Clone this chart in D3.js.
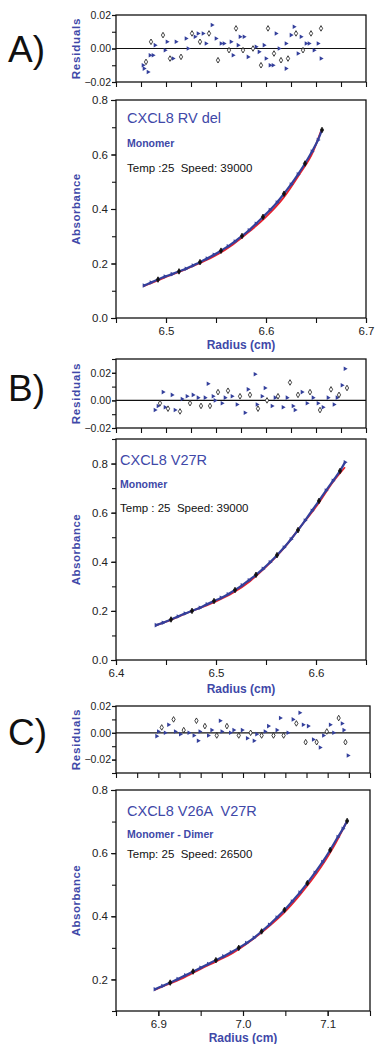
<!DOCTYPE html>
<html>
<head>
<meta charset="utf-8">
<script src="https://cdn.jsdelivr.net/npm/d3@7"></script>
<style>
  body { margin: 0; background: #fff; }
  svg { display: block; font-family: "Liberation Sans", Arial, sans-serif; }
  text { white-space: pre; }
</style>
</head>
<body>
<svg id="chart" width="375" height="1044"></svg>
<script>
// ---- panel A : CXCL8 RV del ----
const fitA_r = [6.477, 6.490, 6.500, 6.517, 6.533, 6.550, 6.567, 6.583, 6.600, 6.617, 6.633, 6.647, 6.655];
const fitA_v = [0.116, 0.135, 0.151, 0.175, 0.200, 0.230, 0.270, 0.316, 0.371, 0.439, 0.525, 0.610, 0.686];
const obsA_r = [6.478, 6.485, 6.492, 6.499, 6.506, 6.513, 6.520, 6.527, 6.534, 6.541, 6.548, 6.555, 6.562, 6.569,
  6.576, 6.583, 6.590, 6.597, 6.604, 6.611, 6.618, 6.625, 6.632, 6.639, 6.646, 6.652, 6.656];
const obsA_v = [0.119, 0.130, 0.141, 0.152, 0.161, 0.171, 0.181, 0.193, 0.205, 0.218, 0.232, 0.247, 0.263, 0.281,
  0.301, 0.322, 0.346, 0.371, 0.396, 0.424, 0.456, 0.490, 0.527, 0.567, 0.611, 0.653, 0.690];
const resA_r = [6.477, 6.478, 6.480, 6.482, 6.484, 6.485, 6.487, 6.489, 6.497, 6.499, 6.501, 6.504, 6.507, 6.510,
  6.515, 6.520, 6.522, 6.526, 6.529, 6.532, 6.534, 6.537, 6.540, 6.543, 6.546, 6.550, 6.552, 6.555, 6.558,
  6.563, 6.565, 6.567, 6.570, 6.572, 6.574, 6.577, 6.578, 6.582, 6.587, 6.590, 6.593, 6.595, 6.598, 6.600,
  6.602, 6.604, 6.607, 6.608, 6.610, 6.613, 6.615, 6.620, 6.620, 6.622, 6.625, 6.628, 6.630, 6.632, 6.635,
  6.637, 6.640, 6.643, 6.645, 6.648, 6.652, 6.655, 6.655];
const resA_v = [-0.010, -0.012, -0.008, -0.014, -0.004, 0.004, -0.004, 0.002, 0.008, -0.001, 0.004, -0.006,
  -0.006, 0.004, -0.005, 0.006, 0.000, 0.009, 0.007, 0.009, 0.004, 0.009, 0.003, 0.009, 0.014, 0.006, -0.007,
  0.003, 0.003, -0.001, 0.004, -0.004, 0.012, 0.002, 0.007, -0.001, 0.007, -0.005, 0.000, 0.001, -0.002, -0.010,
  0.002, -0.006, 0.012, -0.010, -0.010, -0.003, 0.009, 0.000, -0.007, -0.012, 0.003, -0.006, 0.008, 0.013,
  0.009, -0.003, 0.007, -0.001, 0.003, 0.003, 0.009, -0.001, 0.003, 0.012, -0.006];

// ---- panel B : CXCL8 V27R ----
const fitB_r = [6.439, 6.451, 6.467, 6.484, 6.500, 6.517, 6.534, 6.551, 6.567, 6.584, 6.601, 6.617, 6.629];
const fitB_v = [0.140, 0.157, 0.185, 0.212, 0.239, 0.274, 0.321, 0.383, 0.451, 0.540, 0.629, 0.725, 0.785];
const obsB_r = [6.440, 6.447, 6.455, 6.462, 6.469, 6.476, 6.484, 6.491, 6.498, 6.505, 6.512, 6.519, 6.526, 6.533,
  6.540, 6.547, 6.554, 6.561, 6.568, 6.575, 6.582, 6.589, 6.596, 6.603, 6.610, 6.617, 6.624, 6.629];
const obsB_v = [0.142, 0.152, 0.165, 0.177, 0.189, 0.200, 0.213, 0.227, 0.240, 0.253, 0.268, 0.285, 0.304, 0.325,
  0.347, 0.371, 0.398, 0.427, 0.458, 0.492, 0.529, 0.568, 0.608, 0.648, 0.690, 0.730, 0.770, 0.805];
const resB_r = [6.439, 6.442, 6.444, 6.447, 6.449, 6.452, 6.456, 6.459, 6.464, 6.466, 6.471, 6.474, 6.477, 6.482,
  6.485, 6.489, 6.492, 6.494, 6.497, 6.499, 6.502, 6.506, 6.509, 6.512, 6.516, 6.521, 6.524, 6.529, 6.532,
  6.534, 6.539, 6.541, 6.542, 6.546, 6.549, 6.551, 6.556, 6.559, 6.562, 6.567, 6.571, 6.574, 6.577, 6.579,
  6.582, 6.586, 6.591, 6.594, 6.597, 6.602, 6.604, 6.607, 6.612, 6.615, 6.618, 6.621, 6.623, 6.626, 6.629, 6.631];
const resB_v = [-0.007, -0.004, -0.002, 0.006, -0.005, -0.006, 0.004, -0.007, -0.008, 0.001, 0.003, -0.002,
  0.004, 0.002, -0.004, 0.002, 0.012, -0.004, 0.003, 0.000, 0.006, -0.002, 0.002, 0.007, 0.003, -0.003, 0.003,
  -0.009, 0.008, 0.004, 0.019, -0.003, -0.006, 0.003, 0.009, 0.000, -0.004, 0.002, 0.003, -0.005, 0.002, 0.013,
  -0.004, -0.007, 0.004, 0.006, -0.002, 0.006, 0.002, -0.002, -0.007, -0.005, 0.002, 0.008, -0.003, 0.002,
  0.004, 0.011, 0.023, 0.009];

// ---- panel C : CXCL8 V26A V27R ----
const fitC_r = [6.896, 6.910, 6.929, 6.949, 6.969, 6.988, 7.008, 7.028, 7.048, 7.067, 7.087, 7.107, 7.122];
const fitC_v = [0.167, 0.183, 0.204, 0.232, 0.258, 0.284, 0.320, 0.362, 0.410, 0.467, 0.536, 0.620, 0.697];
const obsC_r = [6.896, 6.905, 6.914, 6.923, 6.932, 6.941, 6.950, 6.959, 6.968, 6.977, 6.986, 6.995, 7.004, 7.013,
  7.022, 7.031, 7.040, 7.049, 7.058, 7.067, 7.076, 7.085, 7.094, 7.103, 7.112, 7.118, 7.123];
const obsC_v = [0.169, 0.179, 0.190, 0.201, 0.213, 0.225, 0.237, 0.249, 0.261, 0.273, 0.286, 0.300, 0.315, 0.332,
  0.352, 0.373, 0.396, 0.420, 0.447, 0.475, 0.505, 0.538, 0.572, 0.610, 0.651, 0.677, 0.702];
const resC_r = [6.898, 6.900, 6.904, 6.908, 6.912, 6.918, 6.920, 6.926, 6.930, 6.936, 6.942, 6.945, 6.947, 6.949,
  6.955, 6.959, 6.963, 6.969, 6.973, 6.975, 6.981, 6.985, 6.989, 6.995, 6.999, 7.005, 7.009, 7.013, 7.016,
  7.022, 7.026, 7.030, 7.036, 7.040, 7.044, 7.048, 7.053, 7.059, 7.063, 7.067, 7.071, 7.074, 7.077, 7.083,
  7.087, 7.091, 7.095, 7.099, 7.103, 7.107, 7.113, 7.117, 7.119, 7.121, 7.124];
const resC_v = [-0.0025, 0.001, 0.004, 0.000, 0.006, 0.010, 0.001, -0.001, 0.002, 0.000, -0.002, 0.009, -0.006,
  0.001, 0.005, -0.002, 0.002, -0.002, 0.009, 0.001, 0.005, 0.000, 0.002, -0.002, 0.002, -0.004, 0.000, -0.006,
  -0.001, -0.002, 0.001, 0.005, -0.002, 0.002, 0.011, -0.002, 0.000, 0.010, 0.007, 0.015, 0.006, -0.007, 0.005,
  -0.005, -0.007, -0.011, -0.002, 0.001, 0.006, 0.000, 0.011, 0.007, 0.002, -0.007, -0.017];

// axis ticks and labels
const ticksMainA = [0, 0.2, 0.4, 0.6, 0.8], ticksMainB = [0, 0.2, 0.4, 0.6, 0.8], ticksMainC = [0.2, 0.4, 0.6, 0.8];
const ticksXA = [6.5, 6.6, 6.7], ticksXB = [6.4, 6.5, 6.6], ticksXC = [6.9, 7.0, 7.1];
const ticksRes = [-0.02, 0, 0.02];

const panels = [
  { letter: 'A)', letterY: 62, left: 116, right: 366, res: [15, 82], main: [100, 318], xLab: 349,
    xDom: [6.45, 6.7], yDom: [0, 0.8], rDom: [-0.02, 0.02], yTicks: ticksMainA, xTicks: ticksXA,
    fitR: fitA_r, fitV: fitA_v, obsR: obsA_r, obsV: obsA_v, resR: resA_r, resV: resA_v,
    tx: 127, t: ['CXCL8 RV del', 'Monomer', 'Temp :25  Speed: 39000'], ty: [123, 147, 172] },
  { letter: 'B)', letterY: 401, left: 116, right: 366, res: [359, 428], main: [439, 660], xLab: 693,
    xDom: [6.4, 6.65], yDom: [0, 0.9], rDom: [-0.02, 0.03], yTicks: ticksMainB, xTicks: ticksXB,
    fitR: fitB_r, fitV: fitB_v, obsR: obsB_r, obsV: obsB_v, resR: resB_r, resV: resB_v,
    tx: 120, t: ['CXCL8 V27R', 'Monomer', 'Temp : 25  Speed: 39000'], ty: [465, 488, 512] },
  { letter: 'C)', letterY: 745, left: 116, right: 370, res: [706, 773], main: [790, 1011], xLab: 1042,
    xDom: [6.85, 7.15], yDom: [0.1, 0.8], rDom: [-0.03, 0.02], yTicks: ticksMainC, xTicks: ticksXC,
    fitR: fitC_r, fitV: fitC_v, obsR: obsC_r, obsV: obsC_v, resR: resC_r, resV: resC_v,
    tx: 127, t: ['CXCL8 V26A  V27R', 'Monomer - Dimer', 'Temp: 25  Speed: 26500'], ty: [816, 838, 858] }
];

const blue = '#34409c', textBlue = '#4048a8', red = '#e8202c';
const svg = d3.select('#chart');

const tri = d3.symbol(d3.symbolTriangle, 9);
const dia = d3.symbol(d3.symbolDiamond, 9);

// open: black diamonds drawn hollow (residuals) or filled (main curve)
function drawMarkers(g, xs, ys, x, y, open) {
  g.selectAll('path.m')
    .data(xs.map((r, i) => [r, ys[i], i]))
    .join('path')
      .attr('class', 'm')
      .attr('d', d => (d[2] % 3 === 2 ? dia() : tri()))
      .attr('transform', d => `translate(${x(d[0])},${y(d[1])})` + (d[2] % 3 === 2 ? '' : ' rotate(90)'))
      .attr('fill', d => (d[2] % 3 === 2 ? (open ? '#fff' : '#111') : blue))
      .attr('stroke', d => (d[2] % 3 === 2 ? '#111' : 'none'))
      .attr('stroke-width', 0.8);
}

function styleAxis(g) {
  g.select('.domain').remove();
  g.selectAll('line').attr('stroke', '#111').attr('stroke-width', 1.1);
  g.selectAll('text').attr('fill', '#222').style('font-size', '11.5px');
}

for (const p of panels) {
  const x = d3.scaleLinear().domain(p.xDom).range([p.left, p.right]);
  const yM = d3.scaleLinear().domain(p.yDom).range([p.main[1], p.main[0]]);
  const yR = d3.scaleLinear().domain(p.rDom).range([p.res[1], p.res[0]]);
  const xMinor = d3.range(p.xDom[0], p.xDom[1] + 1e-9, 0.05);
  const xResTicks = d3.range(p.xDom[0], p.xDom[1] + 1e-9, 0.025);

  // panel letter
  svg.append('text').attr('x', 8).attr('y', p.letterY)
    .style('font-size', '37px').attr('fill', '#111').text(p.letter);

  // ---- residuals ----
  const gr = svg.append('g');
  gr.append('g').attr('transform', `translate(0,${p.res[1]})`)
    .call(d3.axisBottom(x).tickValues(xResTicks).tickSize(5).tickFormat(''))
    .call(styleAxis);
  gr.append('g').attr('transform', `translate(${p.left},0)`)
    .call(d3.axisLeft(yR).tickValues(d3.range(Math.round(p.rDom[0] * 100), Math.round(p.rDom[1] * 100) + 1).map(v => v / 100))
      .tickSize(4).tickFormat(''))
    .call(styleAxis);
  gr.append('g').attr('transform', `translate(${p.left},0)`)
    .call(d3.axisLeft(yR).tickValues(ticksRes).tickSize(4).tickPadding(1).tickFormat(d3.format('.2f')))
    .call(styleAxis)
    .call(g => g.selectAll('text').style('font-size', '10.5px'));
  gr.append('line')
    .attr('x1', p.left).attr('x2', p.right).attr('y1', yR(0)).attr('y2', yR(0))
    .attr('stroke', '#111').attr('stroke-width', 1.2);
  drawMarkers(gr.append('g'), p.resR, p.resV, x, yR, true);
  gr.append('rect').attr('x', p.left).attr('y', p.res[0])
    .attr('width', p.right - p.left).attr('height', p.res[1] - p.res[0])
    .attr('fill', 'none').attr('stroke', '#111').attr('stroke-width', 1.3);
  svg.append('text')
    .attr('transform', `translate(80,${(p.res[0] + p.res[1]) / 2}) rotate(-90)`)
    .attr('text-anchor', 'middle').attr('fill', textBlue)
    .style('font-size', '11.5px').style('font-weight', 'bold').style('letter-spacing', '0.8px')
    .text('Residuals');

  // ---- main plot ----
  const gm = svg.append('g');
  gm.append('g').attr('transform', `translate(0,${p.main[1]})`)
    .call(d3.axisBottom(x).tickValues(xMinor).tickSize(5).tickFormat(''))
    .call(styleAxis);
  gm.append('g').attr('transform', `translate(0,${p.main[1]})`)
    .call(d3.axisBottom(x).tickValues(p.xTicks).tickSize(5).tickPadding(4).tickFormat(d3.format('.1f')))
    .call(styleAxis);
  gm.append('g').attr('transform', `translate(${p.left},0)`)
    .call(d3.axisLeft(yM).tickValues(d3.range(Math.round(p.yDom[0] * 10), Math.round(p.yDom[1] * 10) + 1).map(v => v / 10))
      .tickSize(4).tickFormat(''))
    .call(styleAxis);
  gm.append('g').attr('transform', `translate(${p.left},0)`)
    .call(d3.axisLeft(yM).tickValues(p.yTicks).tickSize(5).tickPadding(3).tickFormat(d3.format('.1f')))
    .call(styleAxis);

  const line = d3.line().curve(d3.curveMonotoneX);
  gm.append('path')
    .attr('d', line(p.fitR.map((r, i) => [x(r), yM(p.fitV[i])])))
    .attr('fill', 'none').attr('stroke', red).attr('stroke-width', 1.8);
  gm.append('path')
    .attr('d', line(p.obsR.map((r, i) => [x(r), yM(p.obsV[i])])))
    .attr('fill', 'none').attr('stroke', blue).attr('stroke-width', 2.2);
  drawMarkers(gm.append('g'), p.obsR, p.obsV, x, yM, false);

  gm.append('rect').attr('x', p.left).attr('y', p.main[0])
    .attr('width', p.right - p.left).attr('height', p.main[1] - p.main[0])
    .attr('fill', 'none').attr('stroke', '#111').attr('stroke-width', 1.3);

  svg.append('text')
    .attr('transform', `translate(80,${(p.main[0] + p.main[1]) / 2}) rotate(-90)`)
    .attr('text-anchor', 'middle').attr('fill', textBlue)
    .style('font-size', '11.5px').style('font-weight', 'bold').style('letter-spacing', '0.5px')
    .text('Absorbance');
  svg.append('text')
    .attr('x', (p.left + p.right) / 2).attr('y', p.xLab)
    .attr('text-anchor', 'middle').attr('fill', textBlue)
    .style('font-size', '12px').style('font-weight', 'bold').text('Radius (cm)');

  // annotations
  svg.append('text').attr('x', p.tx).attr('y', p.ty[0]).attr('fill', textBlue)
    .style('font-size', '14.5px').text(p.t[0]);
  svg.append('text').attr('x', p.tx).attr('y', p.ty[1]).attr('fill', textBlue)
    .style('font-size', '10.5px').style('font-weight', 'bold').text(p.t[1]);
  svg.append('text').attr('x', p.tx).attr('y', p.ty[2]).attr('fill', '#111')
    .style('font-size', '11.5px').text(p.t[2]);
}
</script>
</body>
</html>
